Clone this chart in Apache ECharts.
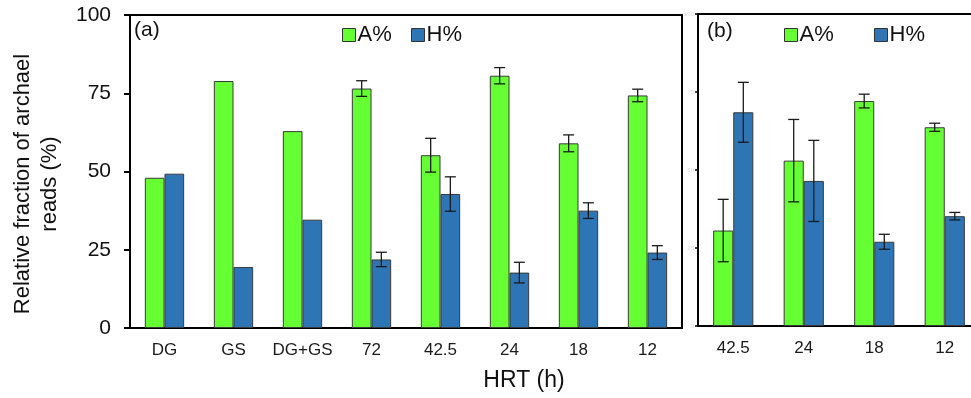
<!DOCTYPE html>
<html>
<head>
<meta charset="utf-8">
<script src="https://cdn.jsdelivr.net/npm/echarts@6/dist/echarts.min.js"></script>
<style>
html,body{margin:0;padding:0;background:#fff;overflow:hidden;width:971px;height:398px;}
#chart{width:1000px;height:398px;}
</style>
</head>
<body>
<div id="chart"></div>
<script>
// ---- data ----
const catsA = ['DG', 'GS', 'DG+GS', '72', '42.5', '24', '18', '12'];
const aValA = [48.0, 78.9, 62.9, 76.5, 55.2, 80.6, 59.0, 74.3];
const aErrA = [null, null, null, 2.5, 5.4, 2.6, 2.7, 2.0];
const hValA = [49.3, 19.5, 34.6, 21.9, 42.8, 17.7, 37.5, 24.1];
const hErrA = [null, null, null, 2.3, 5.5, 3.3, 2.5, 2.2];

const catsB = ['42.5', '24', '18', '12'];
const aValB = [30.6, 53.0, 72.1, 63.7];
const aErrB = [10.0, 13.2, 2.2, 1.3];
const hValB = [68.5, 46.5, 27.0, 35.2];
const hErrB = [9.6, 13.0, 2.4, 1.2];

const yTicks = [0, 25, 50, 75, 100];

// ---- styles ----
const GREEN = '#66FF33';
const BLUE = '#2E75B6';
const FONT = '"Liberation Sans", Arial, sans-serif';
const GAP = 0.43;

function errData(vals, errs) {
  const out = [];
  vals.forEach((v, i) => {
    if (errs[i] != null) out.push([i, v - errs[i], v + errs[i]]);
  });
  return out;
}

function errRender(sign) {
  return function (params, api) {
    const i = api.value(0);
    const lo = api.value(1), hi = api.value(2);
    const band = api.size([1, 0])[0];
    const bw = band * (1 - GAP) / 2;
    const pLo = api.coord([i, lo]);
    const pHi = api.coord([i, hi]);
    const x = pLo[0] + sign * bw / 2;
    const cap = 5.5;
    const st = { stroke: '#1a1a1a', lineWidth: 1.3 };
    return {
      type: 'group',
      children: [
        { type: 'line', shape: { x1: x, y1: pLo[1], x2: x, y2: pHi[1] }, style: st },
        { type: 'line', shape: { x1: x - cap, y1: pLo[1], x2: x + cap, y2: pLo[1] }, style: st },
        { type: 'line', shape: { x1: x - cap, y1: pHi[1], x2: x + cap, y2: pHi[1] }, style: st }
      ]
    };
  };
}

const barItem = (c) => ({ color: c, borderColor: '#3a3a3a', borderWidth: 1 });

function legendAt(name, left) {
  return {
    data: [name],
    left: left, top: 19,
    icon: 'rect', itemWidth: 13, itemHeight: 13,
    selectedMode: false,
    itemStyle: { borderColor: '#333', borderWidth: 1 },
    textStyle: { fontSize: 22, color: '#111', fontFamily: FONT, padding: [0, 0, 0, -3] }
  };
}

const chart = echarts.init(document.getElementById('chart'), null, { renderer: 'canvas' });

const option = {
  animation: false,
  backgroundColor: '#fff',
  textStyle: { fontFamily: FONT },
  legend: [
    legendAt('A%', 337),
    legendAt('H%', 406),
    legendAt('A%', 779),
    legendAt('H%', 869)
  ],
  grid: [
    { left: 130, width: 552, top: 15, bottom: 70, show: true, borderColor: '#000', borderWidth: 2, backgroundColor: 'transparent' },
    { left: 698, width: 282, top: 14, bottom: 72, show: false }
  ],
  xAxis: [
    {
      type: 'category', gridIndex: 0, data: catsA,
      axisLine: { lineStyle: { color: '#000', width: 2 } },
      axisTick: { show: false },
      axisLabel: { interval: 0, fontSize: 17, color: '#1a1a1a', margin: 14, fontFamily: FONT }
    },
    {
      type: 'category', gridIndex: 1, data: catsB,
      axisLine: { lineStyle: { color: '#000', width: 2 } },
      axisTick: { show: false },
      axisLabel: { interval: 0, fontSize: 17, color: '#1a1a1a', margin: 14, fontFamily: FONT }
    },
    {
      type: 'category', gridIndex: 1, data: catsB, position: 'top',
      axisLine: { show: true, lineStyle: { color: '#000', width: 2 } },
      axisTick: { show: false },
      axisLabel: { show: false }
    }
  ],
  yAxis: [
    {
      type: 'value', gridIndex: 0, min: 0, max: 100, interval: 25,
      axisLine: { show: true, lineStyle: { color: '#000', width: 2 } },
      axisTick: { show: true, length: 6, lineStyle: { color: '#000', width: 2 } },
      splitLine: { show: false },
      axisLabel: { fontSize: 21, color: '#111', margin: 19, fontFamily: FONT,
        formatter: (v) => yTicks.indexOf(v) >= 0 ? String(v) : '' }
    },
    {
      type: 'value', gridIndex: 1, min: 0, max: 100, interval: 25,
      axisLine: { show: true, lineStyle: { color: '#000', width: 2 } },
      axisTick: { show: true, length: 3, lineStyle: { color: '#000', width: 1.5 } },
      splitLine: { show: false },
      axisLabel: { fontSize: 6, color: '#dcdcdc', margin: 4, fontFamily: FONT }
    }
  ],
  series: [
    { name: 'A%', type: 'bar', xAxisIndex: 0, yAxisIndex: 0, data: aValA, barGap: '0%', barCategoryGap: (GAP * 100) + '%', itemStyle: barItem(GREEN) },
    { name: 'H%', type: 'bar', xAxisIndex: 0, yAxisIndex: 0, data: hValA, barGap: '0%', barCategoryGap: (GAP * 100) + '%', itemStyle: barItem(BLUE) },
    { name: 'A%', type: 'bar', xAxisIndex: 1, yAxisIndex: 1, data: aValB, barGap: '0%', barCategoryGap: (GAP * 100) + '%', itemStyle: barItem(GREEN) },
    { name: 'H%', type: 'bar', xAxisIndex: 1, yAxisIndex: 1, data: hValB, barGap: '0%', barCategoryGap: (GAP * 100) + '%', itemStyle: barItem(BLUE) },
    { name: 'errA_a', type: 'custom', xAxisIndex: 0, yAxisIndex: 0, z: 5, renderItem: errRender(-1), data: errData(aValA, aErrA), encode: { x: 0, y: [1, 2] } },
    { name: 'errA_h', type: 'custom', xAxisIndex: 0, yAxisIndex: 0, z: 5, renderItem: errRender(1), data: errData(hValA, hErrA), encode: { x: 0, y: [1, 2] } },
    { name: 'errB_a', type: 'custom', xAxisIndex: 1, yAxisIndex: 1, z: 5, renderItem: errRender(-1), data: errData(aValB, aErrB), encode: { x: 0, y: [1, 2] } },
    { name: 'errB_h', type: 'custom', xAxisIndex: 1, yAxisIndex: 1, z: 5, renderItem: errRender(1), data: errData(hValB, hErrB), encode: { x: 0, y: [1, 2] } }
  ],
  graphic: [
    { type: 'text', x: 134, y: 20, style: { text: '(a)', fontSize: 21, fill: '#111', fontFamily: FONT } },
    { type: 'text', x: 707, y: 21, style: { text: '(b)', fontSize: 21, fill: '#111', fontFamily: FONT } },
    { type: 'text', x: 524, y: 381, style: { text: 'HRT (h)', fontSize: 23, fill: '#111', fontFamily: FONT, textAlign: 'center', textVerticalAlign: 'middle' } },
    { type: 'text', x: 36, y: 184, rotation: Math.PI / 2,
      style: { text: 'Relative fraction of archael\nreads (%)', fontSize: 22, lineHeight: 27, fill: '#111', fontFamily: FONT, textAlign: 'center', textVerticalAlign: 'middle' } }
  ]
};

chart.setOption(option);
</script>
</body>
</html>
